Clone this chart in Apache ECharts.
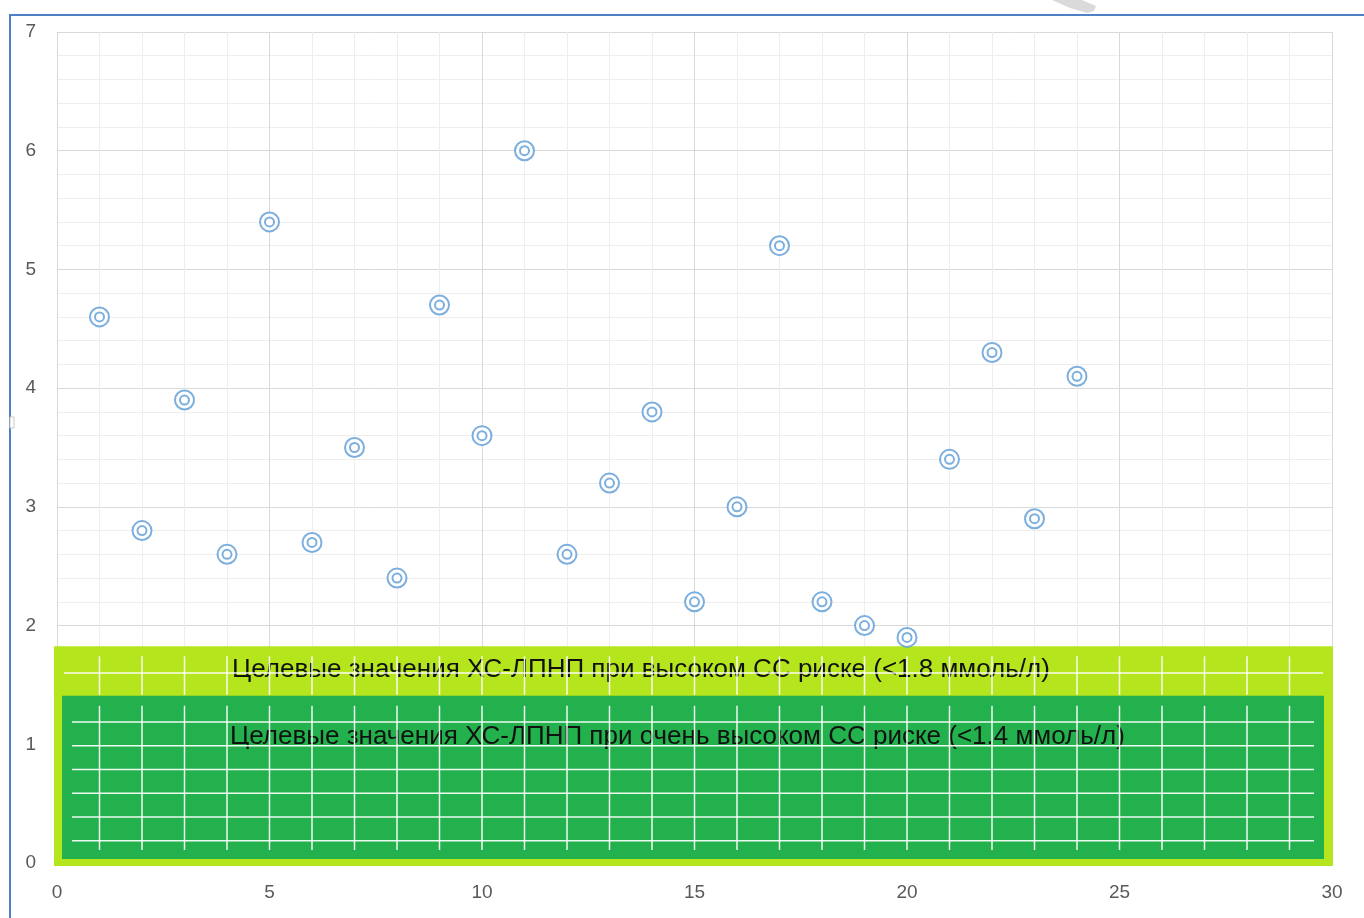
<!DOCTYPE html>
<html>
<head>
<meta charset="utf-8">
<script src="https://cdn.jsdelivr.net/npm/echarts@6/dist/echarts.min.js"></script>
<style>
  html, body { margin: 0; padding: 0; background: #ffffff; }
  #chart { width: 1364px; height: 918px; }
</style>
</head>
<body>
<div id="chart"></div>
<script>
// Patient number and measured LDL cholesterol (ммоль/л)
const patientIds = [1, 2, 3, 4, 5, 6, 7, 8, 9, 10, 11, 12, 13, 14, 15, 16, 17, 18, 19, 20, 21, 22, 23, 24];
const ldlValues  = [4.6, 2.8, 3.9, 2.6, 5.4, 2.7, 3.5, 2.4, 4.7, 3.6, 6.0, 2.6, 3.2, 3.8, 2.2, 3.0, 5.2, 2.2, 2.0, 1.9, 3.4, 4.3, 2.9, 4.1];

// Target zones
const targetLimits = [1.8, 1.4];
const targetLabels = [
  'Целевые значения ХС-ЛПНП при высоком СС риске (<1.8 ммоль/л)',
  'Целевые значения ХС-ЛПНП при очень высоком СС риске (<1.4 ммоль/л)'
];

// Axis ranges
const xRange = [0, 30];
const yRange = [0, 7];

const FONT = '"Liberation Sans", "DejaVu Sans", sans-serif';
const MARKER = '#5b9bd5';

const points = patientIds.map((id, i) => [id, ldlValues[i]]);

const chart = echarts.init(document.getElementById('chart'), null, { renderer: 'canvas' });

const axisCommon = {
  type: 'value',
  axisLine: { show: false },
  axisTick: { show: false },
  splitLine: { show: true, lineStyle: { color: '#d9d9d9', width: 1 } },
  minorSplitLine: { show: true, lineStyle: { color: '#eeeeee', width: 1 } }
};

chart.setOption({
  animation: false,
  backgroundColor: '#ffffff',
  grid: { left: 57, right: 32, top: 32, bottom: 55 },
  xAxis: Object.assign({}, axisCommon, {
    min: xRange[0], max: xRange[1], interval: 5,
    minorTick: { show: false, splitNumber: 5 },
    axisLabel: { color: '#595959', fontSize: 19, margin: 20, fontFamily: FONT }
  }),
  yAxis: Object.assign({}, axisCommon, {
    min: yRange[0], max: yRange[1], interval: 1,
    minorTick: { show: false, splitNumber: 5 },
    axisLabel: { color: '#595959', fontSize: 19, margin: 21, fontFamily: FONT }
  }),
  series: [
    {
      type: 'scatter', data: points, symbol: 'emptyCircle', symbolSize: 19, z: 3,
      itemStyle: { color: MARKER, borderColor: MARKER, borderWidth: 3 },
      emphasis: { disabled: true }
    },
    {
      type: 'scatter', data: points, symbol: 'emptyCircle', symbolSize: 9, z: 4,
      itemStyle: { color: MARKER, borderColor: MARKER, borderWidth: 2.5 },
      emphasis: { disabled: true }
    }
  ]
});

function px(x, y) { return chart.convertToPixel({ gridIndex: 0 }, [x, y]); }

const origin = px(xRange[0], 0);
const far = px(xRange[1], 0);
const highTop = px(0, targetLimits[0])[1];
const veryHighTop = px(0, targetLimits[1])[1];

// outer (light) zone box
const lightBox = { x: origin[0] - 3, y: highTop - 3, x2: far[0] + 1, y2: origin[1] + 3 };
// inner (dark) zone box
const darkBox = { x: origin[0] + 5, y: veryHighTop - 1, x2: far[0] - 8, y2: origin[1] - 4 };

const graphics = [];

graphics.push({
  type: 'rect', z: 1, silent: true,
  shape: { x: lightBox.x, y: lightBox.y, width: lightBox.x2 - lightBox.x, height: lightBox.y2 - lightBox.y },
  style: { fill: '#b5e61d' }
});
graphics.push({
  type: 'rect', z: 1, silent: true,
  shape: { x: darkBox.x, y: darkBox.y, width: darkBox.x2 - darkBox.x, height: darkBox.y2 - darkBox.y },
  style: { fill: '#22b14c' }
});

// zone captions
graphics.push({
  type: 'text', z: 1, silent: true,
  style: { text: targetLabels[0], x: origin[0] + 175, y: lightBox.y + 24, fill: '#111111',
           font: '26px ' + FONT, verticalAlign: 'middle', align: 'left' }
});
graphics.push({
  type: 'text', z: 1, silent: true,
  style: { text: targetLabels[1], x: origin[0] + 173, y: darkBox.y + 41, fill: '#111111',
           font: '26px ' + FONT, verticalAlign: 'middle', align: 'left' }
});

// white ruling inside the zones
const rule = { stroke: 'rgba(255,255,255,0.92)', lineWidth: 1.5 };
function hline(x1, x2, y) {
  graphics.push({ type: 'line', z: 1, silent: true, shape: { x1: x1, y1: y, x2: x2, y2: y }, style: rule });
}
function vline(x, y1, y2) {
  graphics.push({ type: 'line', z: 1, silent: true, shape: { x1: x, y1: y1, x2: x, y2: y2 }, style: rule });
}
hline(lightBox.x + 10, lightBox.x2 - 10, px(0, 1.6)[1]);
for (let v = 0.2; v < targetLimits[1] - 0.1; v += 0.2) {
  hline(darkBox.x + 10, darkBox.x2 - 10, px(0, v)[1] + 1.5);
}
for (let x = xRange[0] + 1; x < xRange[1]; x++) {
  const cx = px(x, 0)[0];
  vline(cx, lightBox.y + 10, darkBox.y - 1);
  vline(cx, darkBox.y + 10, darkBox.y2 - 9);
}

// frame of the chart object
graphics.push({
  type: 'rect', z: 0, silent: true,
  shape: { x: 10, y: 15, width: 1400, height: 1000 },
  style: { fill: null, stroke: '#4f81c7', lineWidth: 2 }
});
graphics.push({
  type: 'rect', z: 0, silent: true,
  shape: { x: 10, y: 417, width: 4, height: 11 },
  style: { fill: '#ffffff', stroke: '#c8c8c8', lineWidth: 1 }
});
graphics.push({
  type: 'polygon', z: 0, silent: true,
  shape: { points: [[1052, 0], [1082, 0], [1096, 6], [1094, 11], [1087, 13], [1070, 8]] },
  style: { fill: '#dadada' }
});

chart.setOption({ graphic: { elements: graphics } });
</script>
</body>
</html>
